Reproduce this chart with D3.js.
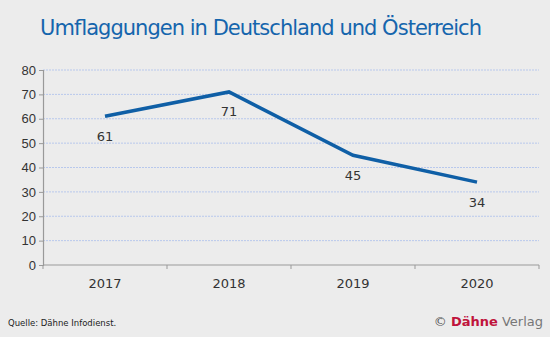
<!DOCTYPE html>
<html>
<head>
<meta charset="utf-8">
<script src="https://cdn.jsdelivr.net/npm/d3@7"></script>
<style>
  body { margin: 0; background: #ececec; }
  svg { display: block; font-family: "DejaVu Sans", sans-serif; }
  .axis-label { font-size: 13px; fill: #333; }
</style>
</head>
<body>
<div id="chart"></div>
<script>
// Umflaggungen je Jahr
const years = ["2017", "2018", "2019", "2020"];
const counts = [61, 71, 45, 34];
const yTicks = [0, 10, 20, 30, 40, 50, 60, 70, 80];

const svgWidth = 550, svgHeight = 337;
const margin = { top: 70, right: 11, bottom: 72, left: 43 };

const svg = d3.select("#chart").append("svg").attr("width", svgWidth).attr("height", svgHeight);
svg.append("rect").attr("width", svgWidth).attr("height", svgHeight).attr("fill", "#ececec");

svg.append("text").attr("x", 261).attr("y", 35).attr("text-anchor", "middle")
  .style("font-size", "21px").attr("fill", "#1565ad").attr("textLength", 442)
  .text("Umflaggungen in Deutschland und Österreich");

const x = d3.scaleBand().domain(years).range([margin.left, svgWidth - margin.right]);
const y = d3.scaleLinear().domain([0, 80]).range([svgHeight - margin.bottom, margin.top]);

// gridlines
svg.append("g").selectAll("line").data(yTicks.filter(d => d > 0)).enter().append("line")
  .attr("x1", margin.left).attr("x2", svgWidth - margin.right)
  .attr("y1", d => y(d)).attr("y2", d => y(d))
  .attr("stroke", "#b8c8ec").attr("stroke-width", 1).attr("stroke-dasharray", "2,1");

// y axis
const yAxis = svg.append("g").attr("transform", `translate(${margin.left},0)`)
  .call(d3.axisLeft(y).tickValues(yTicks).tickSize(4).tickPadding(3));
yAxis.select(".domain").attr("stroke", "#999").attr("stroke-width", 1.2);
yAxis.selectAll(".tick line").attr("stroke", "#999");
yAxis.selectAll("text").attr("class", "axis-label").style("font-size", "13px").attr("fill", "#333").attr("font-family", null);

// x axis, ticks on band edges
const xAxis = svg.append("g").attr("transform", `translate(0,${svgHeight - margin.bottom})`);
xAxis.append("line").attr("x1", margin.left).attr("x2", svgWidth - margin.right)
  .attr("stroke", "#999").attr("stroke-width", 1.2);
const edges = years.map(d => x(d)).concat([x(years[years.length - 1]) + x.bandwidth()]);
xAxis.selectAll(".edge").data(edges).enter().append("line").attr("class", "edge")
  .attr("x1", d => d).attr("x2", d => d).attr("y1", 0).attr("y2", 4).attr("stroke", "#999");
xAxis.selectAll(".x-label").data(years).enter().append("text").attr("class", "axis-label")
  .attr("x", d => x(d) + x.bandwidth() / 2).attr("y", 23).attr("text-anchor", "middle").text(d => d);

// line
const line = d3.line().x((d, i) => x(years[i]) + x.bandwidth() / 2).y(d => y(d));
svg.append("path").datum(counts).attr("d", line).attr("fill", "none")
  .attr("stroke", "#0f5fa6").attr("stroke-width", 3.5).attr("stroke-linejoin", "miter");

svg.selectAll(".value").data(counts).enter().append("text").attr("class", "axis-label")
  .attr("x", (d, i) => x(years[i]) + x.bandwidth() / 2).attr("y", d => y(d) + 20)
  .attr("text-anchor", "middle").attr("dominant-baseline", "central").text(d => d);

// footer
svg.append("text").attr("x", 8).attr("y", 326).style("font-size", "8.5px").attr("fill", "#222")
  .text("Quelle: Dähne Infodienst.");
const brand = svg.append("text").attr("x", 543).attr("y", 326).attr("text-anchor", "end").style("font-size", "13px");
brand.append("tspan").attr("fill", "#555").text("© ");
brand.append("tspan").attr("fill", "#c0143c").attr("font-weight", "bold").text("Dähne");
brand.append("tspan").attr("fill", "#777").text(" Verlag");
</script>
</body>
</html>
